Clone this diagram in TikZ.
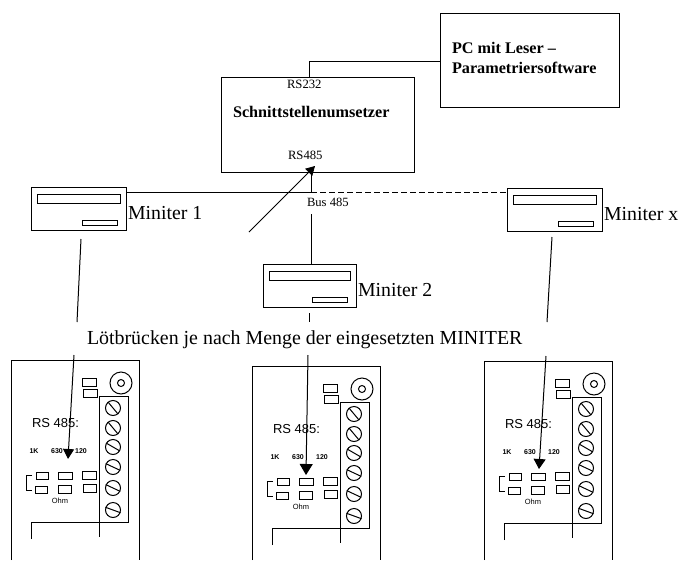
\documentclass[tikz,border=0pt]{standalone}
\usepackage{fontspec}
\setmainfont{Liberation Serif}
\setsansfont{Liberation Sans}
\usetikzlibrary{arrows.meta}
\tikzset{
  x=1pt,y=-1pt,
  ln/.style={line width=1pt,black},
  box/.style={draw,line width=1pt,black,inner sep=0,outer sep=0,anchor=north west},
  thinbox/.style={draw,line width=0.9pt,black,inner sep=0,outer sep=0,anchor=north west},
  lbl/.style={inner sep=0,outer sep=0,anchor=west,text=black},
  tiny/.style={lbl,anchor=center,font=\sffamily\bfseries\fontsize{7}{8}\selectfont},
  head/.style={-{Triangle[width=13pt,length=11pt]}}
}
\newcommand{\bx}[6][box]{\node[#1,minimum width={(#5)*1pt-(#3)*1pt},minimum height={(#6)*1pt-(#4)*1pt}] (#2) at ({#3},{#4}) {};}
\newcommand{\minit}[5]{%
  \bx{#1}{#2}{#3}{#2+#4}{#3+43}
  \bx[thinbox]{#1a}{#2+6}{#3+7}{#2+#4-6}{#3+16}
  \bx[thinbox]{#1b}{#2+#4-44}{#3+33}{#2+#4-9}{#3+38}
  \node[lbl,font=\fontsize{19.8}{22}\selectfont] (#1t) at ({#2+#4+2},{#3+26}) {#5};}
\newcommand{\modul}[3]{%
\begin{scope}[shift={(#2,#3)}]
  \draw[ln] (11,560-#3) -- (11,360) -- (139,360) -- (139,560-#3);
  \bx[thinbox]{#1r1}{82}{378}{96}{386}
  \bx[thinbox]{#1r2}{83}{389}{97}{397}
  \node[draw,ln,circle,minimum size=22pt,inner sep=0] (#1c) at (121,383) {};
  \node[draw,ln,circle,minimum size=7pt,inner sep=0] (#1d) at (121,383) {};
  \bx{#1t}{99}{396}{128}{522}
  \foreach \yy/\aa in {408/-50,428/-50,447/-30,467/-25,488/-25,510/-20}{
    \node[draw,ln,circle,minimum size=15pt,inner sep=0] (#1s\yy) at (113,\yy) {};
    \draw[ln] (#1s\yy.\aa) -- (#1s\yy.\aa+180);
  }
  \node[lbl,font=\sffamily\fontsize{13}{14}\selectfont] (#1rs) at (32,423) {RS 485:};
  \node[tiny] (#1k) at (34,451) {1K};
  \node[tiny] (#1o) at (57,451) {630};
  \node[tiny] (#1h) at (81,451) {120};
  \bx[thinbox]{#1p1}{36}{472}{48}{479}
  \bx[thinbox]{#1p2}{58}{472}{72}{479}
  \bx[thinbox]{#1p3}{82}{471}{96}{479}
  \bx[thinbox]{#1p4}{35}{486}{47}{493}
  \bx[thinbox]{#1p5}{58}{485}{71}{493}
  \bx[thinbox]{#1p6}{83}{484}{96}{492}
  \draw[ln] (32,475) -- (26,475) -- (26,490) -- (32,490);
  \node[tiny,font=\sffamily\fontsize{7.5}{8}\selectfont] (#1ohm) at (60,501) {Ohm};
  \draw[ln] (31,539) -- (31,522) -- (#1t.south west) -- (99,537);
\end{scope}}
\begin{document}
\begin{tikzpicture}
\useasboundingbox (0,0) rectangle (680,560);
\bx{pc}{440}{13}{619}{107}
\bx{su}{221}{77}{414}{172}
\node[lbl,font=\bfseries\fontsize{16.2}{18}\selectfont] (pct1) at (452,48) {PC mit Leser --};
\node[lbl,font=\bfseries\fontsize{16.2}{18}\selectfont] (pct2) at (452,68) {Parametriersoftware};
\node[lbl,font=\bfseries\fontsize{16.2}{18}\selectfont] (sut) at (233,112) {Schnittstellenumsetzer};
\node[lbl,font=\fontsize{12.7}{14}\selectfont] (rs232) at (287,84) {RS232};
\node[lbl,font=\fontsize{12.7}{14}\selectfont] (rs485) at (288,155) {RS485};
\node[lbl,font=\fontsize{12.6}{14}\selectfont] (bus) at (307,202) {Bus 485};
\coordinate (sutop) at (309,77);
\coordinate (pcl) at (440,61);
\draw[ln] (sutop) |- (pcl);
\minit{m1}{31}{187}{95}{Miniter 1}
\minit{m2}{263}{264}{93}{Miniter 2}
\minit{mx}{507}{188}{95}{Miniter x}
\coordinate (m1e) at (126,192);
\coordinate (j) at (311,192);
\coordinate (mxw) at (507,192);
\coordinate (subt) at (311,172);
\draw[ln] (m1e) -- (j) -- (subt);
\draw[ln,dash pattern=on 6pt off 3pt] (j) -- (mxw);
\coordinate (busl) at (311,214);
\coordinate (m2n) at (311,264);
\draw[ln] (busl) -- (m2n);
\coordinate (af) at (249,232);
\coordinate (at) at (315,166);
\draw[line width=0.8pt,black,-{Triangle[width=10pt,length=9pt]}] (af) -- (at);
\node[lbl,font=\fontsize{19.9}{22}\selectfont] (loet) at (87,340) {Lötbrücken je nach Menge der eingesetzten MINITER};
\modul{a}{0}{0}
\modul{b}{241}{6}
\modul{c}{473}{1}
\coordinate (d1) at (81,239); \coordinate (d1b) at (77,322);
\coordinate (d2) at (309,313); \coordinate (d2b) at (309,322);
\coordinate (d3) at (552,237); \coordinate (d3b) at (547,322);
\draw[ln] (d1) -- (d1b);
\draw[ln] (d2) -- (d2b);
\draw[ln] (d3) -- (d3b);
\coordinate (e1) at (74,355); \coordinate (e1b) at (68,459);
\coordinate (e2) at (308,355); \coordinate (e2b) at (306,475);
\coordinate (e3) at (546,356); \coordinate (e3b) at (539,469);
\draw[ln,-{Triangle[width=11pt,length=10pt]}] (e1) -- (e1b);
\draw[ln,head] (e2) -- (e2b);
\draw[ln,-{Triangle[width=12pt,length=10pt]}] (e3) -- (e3b);
\end{tikzpicture}
\end{document}
